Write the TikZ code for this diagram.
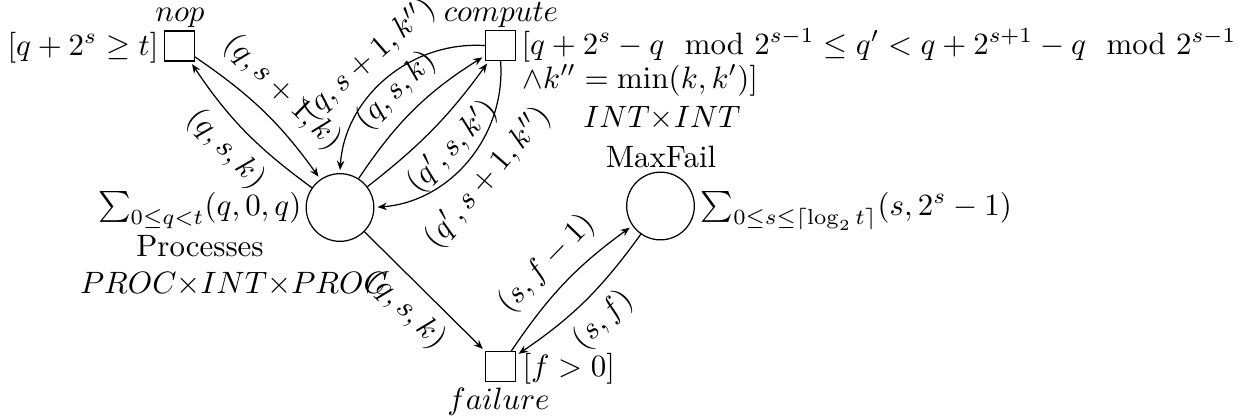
\documentclass[tikz,border=0pt]{standalone}
\usepackage{amsmath}
\usetikzlibrary{arrows.meta}
\begin{document}
\begin{tikzpicture}[x=0.3236pt,y=0.3236pt,
  place/.style={circle,draw,inner sep=0pt,minimum size=21.9pt},
  transition/.style={rectangle,draw,inner sep=0pt,minimum size=9.65pt},
  arc/.style={->,shorten >=1pt,>={Stealth[length=3pt,width=2.4pt,inset=1pt]}},
  txt/.style={inner sep=0pt,anchor=base},
  lab/.style={midway,sloped},
]
\useasboundingbox (0,0) rectangle (1239,-418);
% places and transitions
\node[place] (P) at (340,-207.5) {};
\node[place] (M) at (660.5,-206) {};
\node[transition] (nop) at (179.5,-46) {};
\node[transition] (comp) at (500.5,-45.5) {};
\node[transition] (fail) at (500.5,-366.5) {};
% texts
\node[txt,anchor=base east] (nopG) at (159,-55) {$[q+2^s\geq t]$};
\node[txt] (nopN) at (180,-21) {$nop$};
\node[txt] (compN) at (501,-21) {$compute$};
\node[txt,anchor=base west] (compG1) at (521,-54) {$[q+2^s-q\mod 2^{s-1}\leq q'<q+2^{s+1}-q\mod 2^{s-1}$};
\node[txt,anchor=base west] (compG2) at (522,-88) {$\wedge k''=\min(k,k')]$};
\node[txt,anchor=base east] (PSum) at (302,-215) {$\sum_{0\leq q<t}(q,0,q)$};
\node[txt] (PName) at (200,-256) {Processes};
\node[txt] (PType) at (234,-293) {$PROC{\times}INT{\times}PROC$};
\node[txt] (MType) at (662,-127) {$INT{\times}INT$};
\node[txt] (MName) at (661,-167) {MaxFail};
\node[txt,anchor=base west] (MSum) at (700,-215) {$\sum_{0\leq s\leq\lceil\log_2 t\rceil}(s,2^s-1)$};
\node[txt,anchor=base west] (failG) at (522,-376) {$[f>0]$};
\node[txt] (failN) at (498.5,-409) {$failure$};
% arcs
\draw[arc] (P) to[bend left=10] node[lab,below] {$(q,s,k)$} (nop);
\draw[arc] (nop) to[bend left=10] node[lab,above] {$(q,s+1,k)$} (P);
\draw[arc] (comp) to[bend right=45] node[lab,above] {$(q,s+1,k'')$} (P);
\draw[arc] (P) to[bend left=12] node[lab,above] {$(q,s,k)$} (comp);
\draw[arc] (P) to[bend right=8] node[lab,below] {$(q',s,k')$} (comp);
\draw[arc] (comp) to[bend left=45] node[lab,below] {$(q',s+1,k'')$} (P);
\draw[arc] (P) -- node[lab,below] {$(q,s,k)$} (fail);
\draw[arc] (fail) to[bend left=10] node[lab,above] {$(s,f-1)$} (M);
\draw[arc] (M) to[bend left=10] node[lab,below] {$(s,f)$} (fail);
\end{tikzpicture}
\end{document}
